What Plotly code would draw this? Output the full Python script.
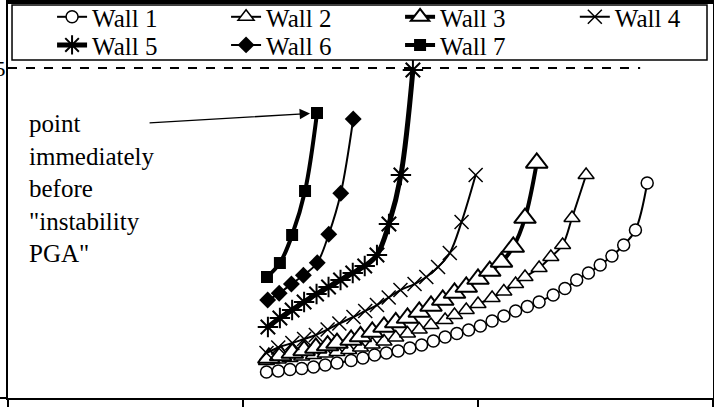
import plotly.graph_objects as go

# values (x, y in axis units)
wall1_x = [1.10, 1.15, 1.20, 1.25, 1.30, 1.35, 1.40, 1.46, 1.51, 1.56, 1.61, 1.66, 1.71,
           1.76, 1.81, 1.86, 1.91, 1.96, 2.01, 2.06, 2.11, 2.16, 2.21, 2.26, 2.32, 2.37,
           2.42, 2.47, 2.52, 2.57, 2.62, 2.67, 2.72]
wall1_y = [0.394, 0.409, 0.432, 0.447, 0.470, 0.500, 0.530, 0.568, 0.606, 0.652, 0.682,
           0.712, 0.758, 0.803, 0.864, 0.924, 0.977, 1.030, 1.091, 1.167, 1.242, 1.318,
           1.386, 1.455, 1.561, 1.659, 1.788, 1.894, 2.015, 2.152, 2.318, 2.545, 3.258]

wall2_x = [1.10, 1.15, 1.20, 1.25, 1.30, 1.35, 1.40, 1.45, 1.50, 1.55, 1.60, 1.65, 1.70,
           1.75, 1.80, 1.86, 1.90, 1.95, 2.00, 2.06, 2.11, 2.16, 2.20, 2.26, 2.31, 2.36,
           2.40, 2.46]
wall2_y = [0.561, 0.583, 0.606, 0.629, 0.652, 0.674, 0.697, 0.727, 0.765, 0.811, 0.856,
           0.917, 0.977, 1.038, 1.106, 1.182, 1.258, 1.333, 1.424, 1.515, 1.614, 1.727,
           1.833, 1.970, 2.136, 2.318, 2.727, 3.379]

wall3_x = [1.11, 1.16, 1.21, 1.26, 1.31, 1.36, 1.40, 1.46, 1.50, 1.55, 1.60, 1.65, 1.70,
           1.75, 1.80, 1.85, 1.90, 1.95, 2.00, 2.05, 2.10, 2.15, 2.20, 2.25]
wall3_y = [0.606, 0.644, 0.682, 0.720, 0.758, 0.795, 0.833, 0.879, 0.932, 1.000, 1.076,
           1.144, 1.212, 1.303, 1.394, 1.485, 1.591, 1.682, 1.803, 1.924, 2.061, 2.288,
           2.727, 3.561]

wall4_x = [1.10, 1.15, 1.21, 1.26, 1.31, 1.36, 1.41, 1.47, 1.52, 1.57, 1.62, 1.67, 1.73,
           1.78, 1.83, 1.88, 1.93, 1.99]
wall4_y = [0.682, 0.765, 0.833, 0.894, 0.955, 1.038, 1.129, 1.227, 1.318, 1.409, 1.523,
           1.636, 1.727, 1.833, 1.985, 2.197, 2.667, 3.379]

wall5_x = [1.106, 1.157, 1.209, 1.260, 1.313, 1.364, 1.415, 1.467, 1.518, 1.570, 1.621,
           1.672, 1.723]
wall5_y = [1.076, 1.212, 1.333, 1.455, 1.576, 1.682, 1.788, 1.894, 2.000, 2.167, 2.636,
           3.379, 4.970]

wall6_x = [1.105, 1.154, 1.206, 1.257, 1.316, 1.365, 1.416, 1.469]
wall6_y = [1.485, 1.586, 1.727, 1.859, 2.050, 2.480, 3.102, 4.227]

wall7_x = [1.102, 1.157, 1.209, 1.264, 1.315]
wall7_y = [1.833, 2.045, 2.470, 3.136, 4.318]

limit_x = [0, 2.69]
limit_y = [5, 5]

FONT = "Liberation Serif, Times New Roman, DejaVu Serif, serif"

fig = go.Figure()

# dashed limit line
fig.add_trace(go.Scatter(x=limit_x, y=limit_y, mode="lines", showlegend=False,
                         line=dict(color="black", width=2, dash="dash")))

# name, x, y, line width, marker, legend (row 1 / row 2 / last column of row 1)
series = [
    ("Wall 1", wall1_x, wall1_y, 2, dict(symbol="circle", size=12, color="white",
                                         line=dict(color="black", width=1.5)), "legend"),
    ("Wall 2", wall2_x, wall2_y, 2, dict(symbol="triangle-up", size=14, color="white",
                                         line=dict(color="black", width=1.5)), "legend"),
    ("Wall 3", wall3_x, wall3_y, 4, dict(symbol="triangle-up", size=19, color="white",
                                         line=dict(color="black", width=2)), "legend"),
    ("Wall 4", wall4_x, wall4_y, 2, dict(symbol="x-thin", size=14, color="black",
                                         line=dict(color="black", width=1.5)), "legend3"),
    ("Wall 5", wall5_x, wall5_y, 5, dict(symbol="asterisk", size=17, color="black",
                                         line=dict(color="black", width=2)), "legend2"),
    ("Wall 6", wall6_x, wall6_y, 2, dict(symbol="diamond", size=13, color="black",
                                         line=dict(color="black", width=0)), "legend2"),
    ("Wall 7", wall7_x, wall7_y, 4, dict(symbol="square", size=12, color="black",
                                         line=dict(color="black", width=0)), "legend2"),
]

for name, xs, ys, lw, mk, lg in series:
    fig.add_trace(go.Scatter(
        x=xs, y=ys, name=name, mode="lines+markers", legend=lg,
        line=dict(color="black", width=lw, shape="spline", smoothing=1),
        marker=mk,
    ))

# text and arrow
fig.add_annotation(
    xref="paper", yref="paper", x=0.027, y=0.733, xanchor="left", yanchor="top",
    text='point<br>immediately<br>before<br>"instability<br>PGA"', align="left",
    showarrow=False, font=dict(family=FONT, size=25, color="black"),
)
fig.add_annotation(
    x=wall7_x[-1], y=wall7_y[-1], ax=0.596, ay=4.167, axref="x", ayref="y",
    text="", showarrow=True, arrowhead=2, arrowsize=1.6, arrowwidth=1.3,
    arrowcolor="black", standoff=7,
)

# legend frame (white box that covers the curves) and thick top edge of the frame
fig.add_shape(type="rect", xref="paper", yref="paper", x0=0.0057, x1=0.9915,
              y0=0.8535, y1=0.9924, layer="above", fillcolor="white",
              line=dict(color="black", width=1.5))
fig.add_shape(type="line", xref="paper", yref="paper", x0=0, x1=1, y0=1, y1=1,
              line=dict(color="black", width=4))

leg = dict(orientation="h", xanchor="left", yanchor="middle",
           bgcolor="rgba(0,0,0,0)", borderwidth=0,
           font=dict(family=FONT, size=25, color="black"))

fig.update_layout(
    width=714, height=407,
    margin=dict(l=8, r=1, t=2, b=9, autoexpand=False),
    plot_bgcolor="white", paper_bgcolor="white",
    font=dict(family=FONT, color="black"),
    legend=dict(leg, x=0.0625, y=0.962, entrywidth=129, entrywidthmode="pixels"),
    legend2=dict(leg, x=0.0625, y=0.891, entrywidth=129, entrywidthmode="pixels"),
    legend3=dict(leg, x=0.804, y=0.962),
)

fig.update_xaxes(
    range=[0, 3], showgrid=False, zeroline=False, automargin=False,
    showline=True, linecolor="black", linewidth=2, mirror=True,
    tickvals=[0, 1, 2, 3], ticks="outside", ticklen=9, tickwidth=2,
    tickcolor="black", showticklabels=False,
)
fig.update_yaxes(
    range=[0, 6], showgrid=False, zeroline=False, automargin=False,
    showline=True, linecolor="black", linewidth=2, mirror=True,
    tickvals=[5], ticktext=["5"], ticks="", ticklabelstandoff=-4,
    tickfont=dict(family=FONT, size=22, color="black"),
    minor=dict(tickvals=[0], ticks="outside", ticklen=8, tickwidth=2, tickcolor="black"),
)

# the page has a default body margin; remove it so the figure sits at the top-left corner
fig.write_html("out.html", config={"displayModeBar": False},
               post_script="document.body.style.margin='0';")
